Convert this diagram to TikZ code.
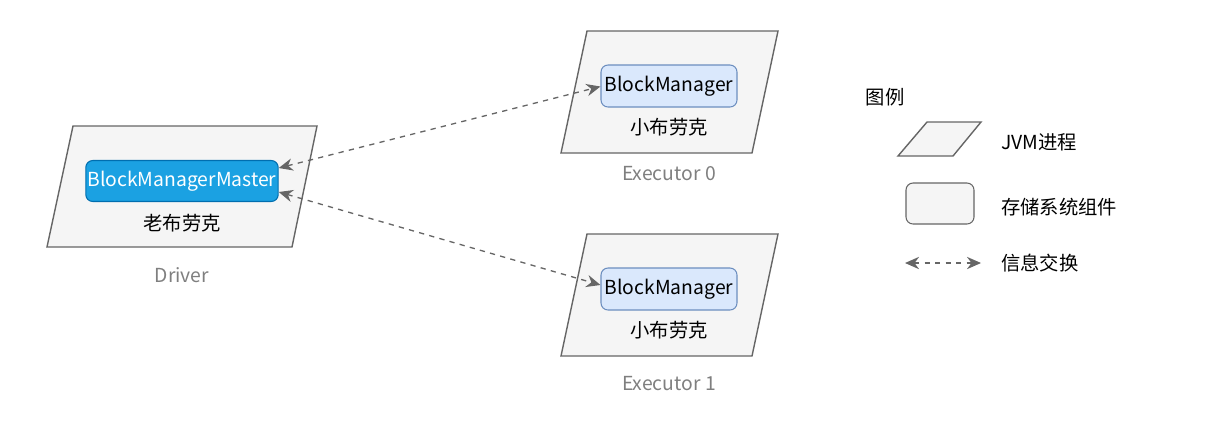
\documentclass[tikz,border=0pt]{standalone}
\usepackage{fontspec}
\setmainfont{Noto Sans CJK SC}
\usepackage{xcolor}
\usetikzlibrary{arrows.meta}
\definecolor{procfill}{HTML}{F5F5F5}
\definecolor{procline}{HTML}{666666}
\definecolor{masterfill}{HTML}{1BA1E2}
\definecolor{masterline}{HTML}{006EAF}
\definecolor{mgrfill}{HTML}{DAE8FC}
\definecolor{mgrline}{HTML}{6C8EBF}
\definecolor{captext}{HTML}{7F7F7F}

\begin{document}
\begin{tikzpicture}[
    every node/.style={font=\fontsize{11}{13}\selectfont},
    jvm/.style={fill=procfill, draw=procline, line width=0.8pt},
    master/.style={rounded corners=4pt, fill=masterfill, draw=masterline, line width=0.6pt,
        text=white, minimum width=3.8cm, minimum height=0.82cm, inner xsep=1pt},
    mgr/.style={rounded corners=4pt, fill=mgrfill, draw=mgrline, line width=0.6pt,
        minimum width=2.72cm, minimum height=0.84cm, inner xsep=1pt},
    proclabel/.style={text=captext},
    xchg/.style={procline, dashed, line width=0.75pt, {Stealth[length=8pt,width=7pt]}-{Stealth[length=8pt,width=7pt]}}
]
    \useasboundingbox (0,0) rectangle (24.52,-8.56);

    % Driver
    \filldraw[jvm] (0.94,-4.94) -- (5.84,-4.94) -- (6.34,-2.52) -- (1.46,-2.52) -- cycle;
    \node[master] (bmm) at (3.64,-3.62) {BlockManagerMaster};
    \node (oldname) at (3.64,-4.46) {老布劳克};
    \node[proclabel] (drivercap) at (3.64,-5.5) {Driver};

    % Executor 0
    \filldraw[jvm] (11.22,-3.06) -- (15.04,-3.06) -- (15.56,-0.62) -- (11.74,-0.62) -- cycle;
    \node[mgr] (bm0) at (13.38,-1.72) {BlockManager};
    \node (name0) at (13.38,-2.54) {小布劳克};
    \node[proclabel] (exec0cap) at (13.38,-3.48) {Executor 0};

    % Executor 1
    \filldraw[jvm] (11.22,-7.12) -- (15.04,-7.12) -- (15.56,-4.68) -- (11.74,-4.68) -- cycle;
    \node[mgr] (bm1) at (13.38,-5.78) {BlockManager};
    \node (name1) at (13.38,-6.6) {小布劳克};
    \node[proclabel] (exec1cap) at (13.38,-7.68) {Executor 1};

    % Exchange
    \draw[xchg] ([yshift=0.26cm]bmm.east) -- ([yshift=-0.01cm]bm0.west);
    \draw[xchg] ([yshift=-0.22cm]bmm.east) -- ([yshift=0.08cm]bm1.west);

    % Legend
    \node (legtitle) at (17.7,-1.94) {图例};
    \filldraw[jvm] (17.96,-3.12) -- (19.06,-3.12) -- (19.62,-2.44) -- (18.54,-2.44) -- cycle;
    \node[anchor=west] (legjvmtext) at (19.9,-2.84) {JVM进程};
    \node[rounded corners=4pt, fill=procfill, draw=procline, line width=0.6pt,
        minimum width=1.36cm, minimum height=0.82cm] (legbox) at (18.8,-4.07) {};
    \node[anchor=west] (legboxtext) at (19.9,-4.14) {存储系统组件};
    \coordinate (legl) at (18.1,-5.26);
    \coordinate (legr) at (19.62,-5.26);
    \draw[xchg] (legl) -- (legr);
    \node[anchor=west] (legxtext) at (19.9,-5.26) {信息交换};
\end{tikzpicture}
\end{document}
